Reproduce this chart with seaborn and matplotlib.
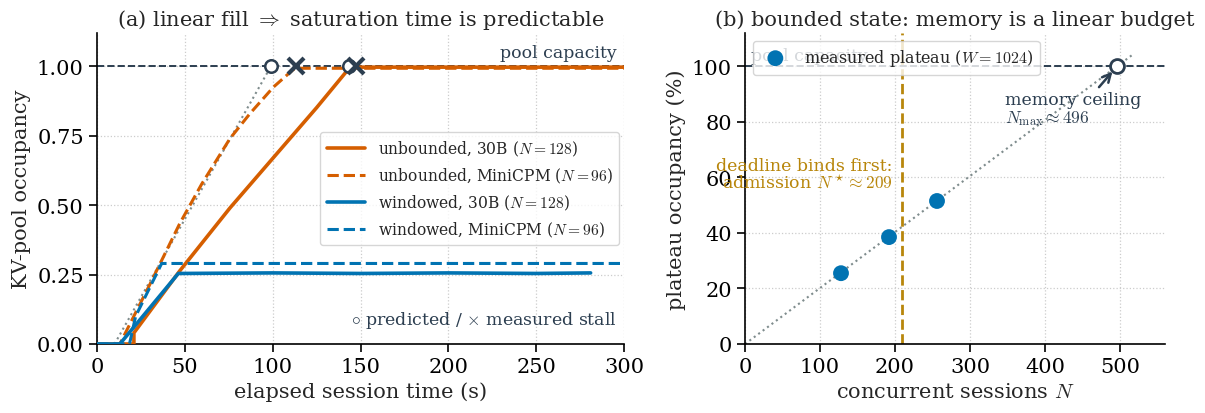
import numpy as np
import pandas as pd
import matplotlib
matplotlib.use("Agg")
import matplotlib.pyplot as plt
import seaborn as sns

# ---------------- data ----------------
# panel (a): KV-pool occupancy over time
t_unb_30b = [0, 21, 21, 47.2, 75.7, 100.4, 125, 143, 146, 300]
y_unb_30b = [0, 0, 0.04, 0.264, 0.49, 0.671, 0.851, 0.989, 0.997, 0.997]

t_unb_mini = [0, 13, 30.2, 47.2, 59.6, 75.7, 87.1, 100.4, 111.8, 116, 300]
y_unb_mini = [0, 0, 0.216, 0.435, 0.576, 0.74, 0.83, 0.925, 0.989, 0.993, 0.993]

t_win_30b = [0, 13, 46.3, 100, 150, 200, 250, 281]
y_win_30b = [0, 0, 0.254, 0.256, 0.254, 0.256, 0.254, 0.256]

t_win_mini = [0, 18.5, 22, 36.8, 300]
y_win_mini = [0, 0, 0.10, 0.290, 0.290]

t_pred_line = [10, 99]
y_pred_line = [0, 1.0]

t_predicted = [99, 143.5]
t_measured = [113.3, 147.4]
capacity = 1.0

# panel (b): plateau occupancy vs concurrent sessions
N_measured = [128, 192, 256]
plateau_pct = [25.5, 38.5, 51.5]
N_max = 496
N_star = 209
N_fit = [0, 516]
fit_pct = [0, 516 * 100 / 496]

# ---------------- style ----------------
sns.set_theme(style="ticks")
plt.rcParams["font.family"] = ["DejaVu Serif"]
plt.rcParams["mathtext.fontset"] = "cm"

ORANGE = "#D55E00"
BLUE = "#0173B2"
SLATE = "#2C3E50"
GREY = "#7F8C8D"
GOLD = "#B8860B"

TICK_FS = 15
LABEL_FS = 15
TITLE_FS = 15
LEG_FS = 11.2
ANN_FS = 12.5

fig = plt.figure(figsize=(12.05, 4.14), dpi=100)
axA = fig.add_axes([97 / 1205, 1 - 345 / 414, (624 - 97) / 1205, (345 - 34) / 414])
axB = fig.add_axes([745 / 1205, 1 - 345 / 414, (1165 - 745) / 1205, (345 - 34) / 414])

for ax in (axA, axB):
    ax.grid(True, linestyle=":", color="#cccccc", linewidth=0.9)
    for s in ("top", "right"):
        ax.spines[s].set_visible(False)
    for s in ("left", "bottom"):
        ax.spines[s].set_linewidth(1.2)
        ax.spines[s].set_color("black")
    ax.tick_params(axis="both", labelsize=TICK_FS, direction="out", length=6, width=1.2,
                   colors="black")

# ----- panel (a) -----
ax = axA
ax.axhline(capacity, color=SLATE, linestyle="--", linewidth=1.4, zorder=1)
sns.lineplot(x=t_pred_line, y=y_pred_line, ax=ax, color=GREY, linestyle=":", linewidth=1.5, zorder=2)
sns.lineplot(x=t_unb_30b, y=y_unb_30b, ax=ax, estimator=None, sort=False, color=ORANGE,
             linewidth=2.6, label=r"unbounded, 30B ($N=128$)", zorder=3)
sns.lineplot(x=t_unb_mini, y=y_unb_mini, ax=ax, estimator=None, sort=False, color=ORANGE,
             linewidth=2.2, linestyle="--", label=r"unbounded, MiniCPM ($N=96$)", zorder=3)
sns.lineplot(x=t_win_30b, y=y_win_30b, ax=ax, estimator=None, sort=False, color=BLUE,
             linewidth=2.6, label=r"windowed, 30B ($N=128$)", zorder=3)
sns.lineplot(x=t_win_mini, y=y_win_mini, ax=ax, estimator=None, sort=False, color=BLUE,
             linewidth=2.2, linestyle="--", label=r"windowed, MiniCPM ($N=96$)", zorder=3)
ax.plot(t_predicted, [capacity] * len(t_predicted), linestyle="none", marker="o", markersize=9,
        markerfacecolor="white", markeredgecolor=SLATE, markeredgewidth=1.8, zorder=5)
ax.plot(t_measured, [capacity] * len(t_measured), linestyle="none", marker="x", markersize=11,
        markeredgecolor=SLATE, markeredgewidth=3, zorder=6)
ax.text(296, 1.05, "pool capacity", ha="right", va="center", fontsize=ANN_FS, color=SLATE)
ax.text(296, 0.09, r"$\circ$ predicted / $\times$ measured stall", ha="right", va="center",
        fontsize=ANN_FS, color=SLATE)
ax.set_xlim(0, 300)
ax.set_ylim(0, 1.12)
ax.set_xticks([0, 50, 100, 150, 200, 250, 300])
ax.set_yticks([0, 0.25, 0.5, 0.75, 1.0])
ax.set_yticklabels(["0.00", "0.25", "0.50", "0.75", "1.00"])
ax.set_xlabel("elapsed session time (s)", fontsize=LABEL_FS)
ax.set_ylabel("KV-pool occupancy", fontsize=LABEL_FS)
ax.set_title(r"(a) linear fill $\Rightarrow$ saturation time is predictable", fontsize=TITLE_FS)
ax.legend(loc="center right", fontsize=LEG_FS, handlelength=2.5, frameon=True,
          fancybox=True, framealpha=0.8, edgecolor="#cccccc", labelspacing=0.5,
          borderaxespad=0.3)

# ----- panel (b) -----
ax = axB
ax.axhline(100, color=SLATE, linestyle="--", linewidth=1.4, zorder=1)
ax.text(8, 104, "pool capacity", ha="left", va="center", fontsize=ANN_FS, color=SLATE)
sns.lineplot(x=N_fit, y=fit_pct, ax=ax, color=GREY, linestyle=":", linewidth=1.5, zorder=2)
ax.axvline(N_star, color=GOLD, linestyle="--", linewidth=2, zorder=2)
sns.scatterplot(x=N_measured, y=plateau_pct, ax=ax, color=BLUE, s=130, edgecolor="none",
                label=r"measured plateau ($W=1024$)", zorder=4)
ax.plot([N_max], [100], linestyle="none", marker="o", markersize=10, markerfacecolor="white",
        markeredgecolor=SLATE, markeredgewidth=2, zorder=5)
ax.annotate("", xy=(N_max, 100), xytext=(472, 92.5),
            arrowprops=dict(arrowstyle="->", color=SLATE, lw=1.8, shrinkA=0, shrinkB=5,
                            mutation_scale=15), zorder=6)
ax.text(347, 84.5, "memory ceiling\n" + r"$N_{\max}\approx 496$", ha="left", va="center",
        fontsize=ANN_FS, color=SLATE, linespacing=1.0)
ax.text(197, 61, "deadline binds first:\n" + r"admission $N^\star\approx 209$", ha="right",
        va="center", multialignment="right", fontsize=ANN_FS, color=GOLD, linespacing=1.0)
ax.set_xlim(0, 560)
ax.set_ylim(0, 112)
ax.set_xticks([0, 100, 200, 300, 400, 500])
ax.set_yticks([0, 20, 40, 60, 80, 100])
ax.set_xlabel(r"concurrent sessions $N$", fontsize=LABEL_FS)
ax.set_ylabel("plateau occupancy (%)", fontsize=LABEL_FS)
ax.set_title("(b) bounded state: memory is a linear budget", fontsize=TITLE_FS)
ax.legend(loc="upper left", fontsize=11.5, frameon=True, fancybox=True, framealpha=0.8,
          edgecolor="#cccccc", markerscale=1.0)

fig.savefig("out.png", dpi=100)
